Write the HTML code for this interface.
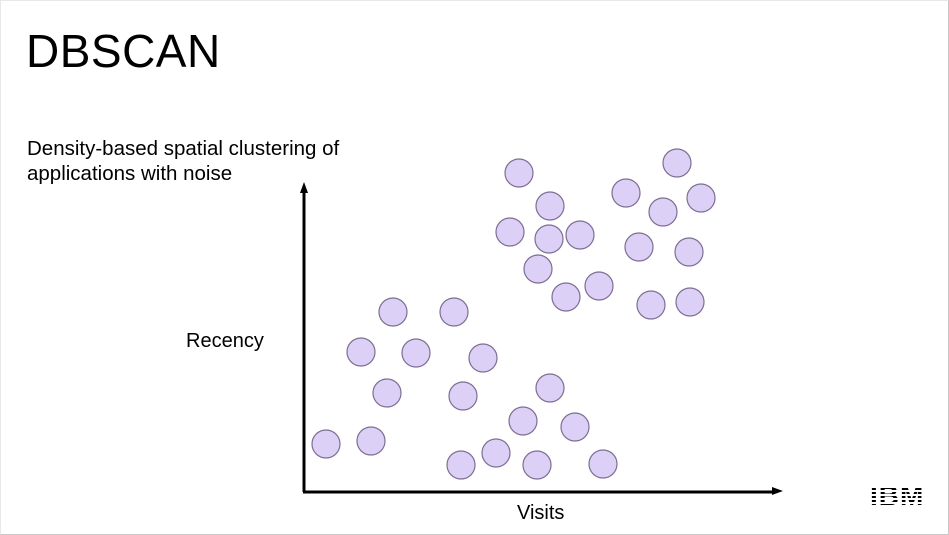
<!DOCTYPE html>
<html><head><meta charset="utf-8"><style>
html,body{margin:0;padding:0;background:#fff}
#slide{position:relative;width:947px;height:533px;border:1px solid #c8c8c8;border-top-color:#e8e8e8;border-left-color:#e8e8e8;overflow:hidden;font-family:"Liberation Sans",sans-serif;color:#000}
.t{position:absolute;white-space:nowrap}
</style></head><body>
<div id="slide">
<div class="t" style="left:25px;top:23px;font-size:46px;letter-spacing:0.5px">DBSCAN</div>
<div class="t" style="left:26px;top:135px;font-size:20.5px;line-height:25px">Density-based spatial clustering of<br>applications with noise</div>
<div class="t" style="left:185px;top:329px;font-size:20px">Recency</div>
<div class="t" style="left:516px;top:501px;font-size:20px">Visits</div>
<div class="t" style="left:869px;top:479px;font-size:28px;font-weight:bold;letter-spacing:1px;background:repeating-linear-gradient(#000 0 2px,#fff 2px 4px);-webkit-background-clip:text;background-clip:text;color:transparent">IBM</div>
<svg id="chart" width="947" height="533" style="position:absolute;left:0;top:0">
<line x1="303" y1="491" x2="303" y2="190" stroke="#000" stroke-width="3"/>
<polygon points="303,181 299,192 307,192" fill="#000"/>
<line x1="302" y1="491" x2="772" y2="491" stroke="#000" stroke-width="3"/>
<polygon points="782,490 771,486 771,494" fill="#000"/>
<g id="pts"></g>
</svg>
</div>
<script>
const visits=[215,373,246,322,397,359,206,245,276,335,385,234,262,295,347,386,89,150,57,112,179,83,159,246,22,67,219,271,157,192,233,299];
const recency=[319,329,286,299,294,280,260,253,257,245,240,223,195,206,187,190,180,180,140,139,134,99,96,104,48,51,71,65,27,39,27,28];
const sx=v=>303+v, sy=v=>491-v;
const g=document.getElementById('pts');
visits.forEach((v,i)=>{
 const c=document.createElementNS('http://www.w3.org/2000/svg','circle');
 c.setAttribute('cx',sx(v));c.setAttribute('cy',sy(recency[i]));c.setAttribute('r',14);
 c.setAttribute('fill','#ddd0f7');c.setAttribute('stroke','#7d6e92');c.setAttribute('stroke-width','1.2');
 
 
 g.appendChild(c);
});
</script>
</body></html>
